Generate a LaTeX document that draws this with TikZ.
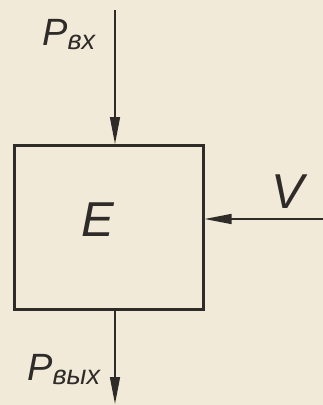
\documentclass[tikz,border=0pt]{standalone}
\usepackage{fontspec}
\setmainfont{Liberation Sans}
\usetikzlibrary{arrows.meta}
\definecolor{paper}{HTML}{F2EAD8}
\definecolor{ink}{HTML}{2E2B29}
\newcommand{\bigP}{{\fontsize{38}{40}\selectfont P}}
\newcommand{\subtxt}[1]{\raisebox{-4pt}{\fontsize{27}{29}\selectfont #1}}
\begin{document}
\begin{tikzpicture}[x=1pt,y=-1pt,
  line/.style={draw=ink,line width=1.5pt},
  tip/.style={-{Triangle[length=27pt,width=10pt]}},
  lbl/.style={text=ink,font=\itshape,inner sep=0pt}]
\fill[paper] (0,0) rectangle (323,405);
\useasboundingbox (0,0) rectangle (323,405);
\node[draw=ink,line width=2.6pt,minimum width=189pt,minimum height=164pt,inner sep=0pt,anchor=north west] (box) at (13,144) {};
\node[text=ink,font=\itshape\fontsize{49}{51}\selectfont,inner sep=0pt] (e) at (98,220) {E};
\coordinate (intop) at (115,10);
\coordinate (outbot) at (115,404);
\coordinate (vin) at (323,219);
\draw[line,tip] (intop) -- (box.north -| intop);
\draw[line,tip] (box.south -| outbot) -- (outbot);
\draw[line,tip] (vin) -- (vin -| box.east);
\node[lbl,anchor=base west] (pin) at (42,45) {\bigP\subtxt{вх}};
\node[lbl,anchor=base west] (pout) at (27,380) {\bigP\subtxt{вых}};
\node[lbl,font=\itshape\fontsize{49}{51}\selectfont] (v) at (288,192) {V};
\end{tikzpicture}
\end{document}
